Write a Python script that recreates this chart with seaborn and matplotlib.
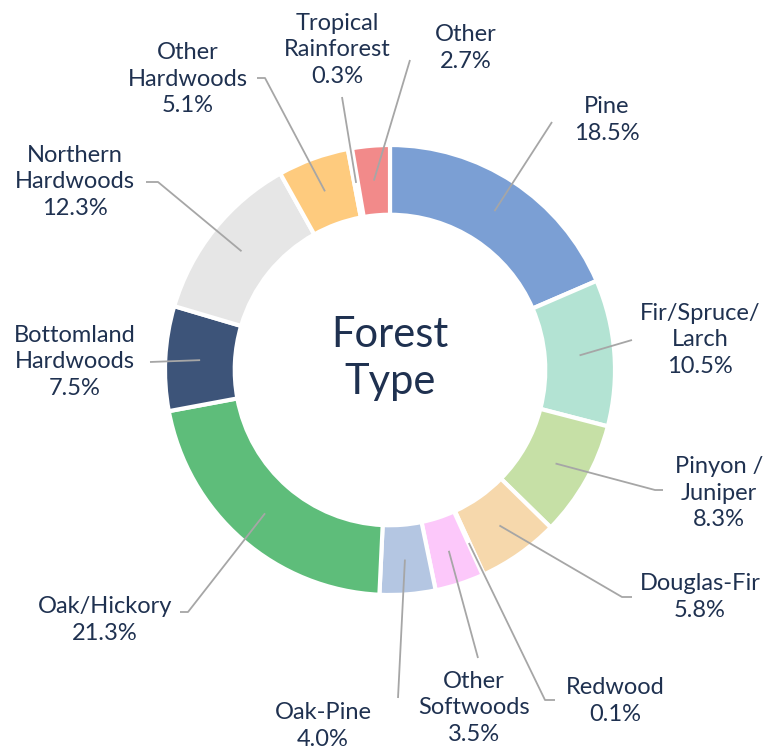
"""
Donut chart of forest type shares, with leader-line labels.
"""
import numpy as np
import seaborn as sns
import matplotlib.pyplot as plt

sns.set_theme(style="white")
plt.rcParams['font.family'] = ['Lato', 'DejaVu Sans']

types = ['Pine', 'Fir/Spruce/\nLarch', 'Pinyon /\nJuniper', 'Douglas-Fir',
         'Redwood', 'Other\nSoftwoods', 'Oak-Pine', 'Oak/Hickory',
         'Bottomland\nHardwoods', 'Northern\nHardwoods', 'Other\nHardwoods',
         'Tropical\nRainforest', 'Other']
shares = [18.5, 10.5, 8.3, 5.8, 0.1, 3.5, 4.0, 21.3, 7.5, 12.3, 5.1, 0.3, 2.7]
colors = ['#7B9FD4', '#B3E3D3', '#C6E0A6', '#F6D8AC', '#FFFFFF', '#FCC8FA',
          '#B4C6E2', '#5EBD7A', '#3D5479', '#E6E6E6', '#FECB7E', '#FFFFFF',
          '#F28A8A']

# label layout in pixels: text centre, line end, optional horizontal tail
label_pos = [(607, 120), (700, 340), (719, 493), (700, 597), (615, 701),
             (474, 708), (323, 726), (105, 620), (75, 362), (75, 182),
             (188, 79), (337, 50), (466, 48)]
line_end = [(552, 122), (632, 340), (655, 490), (622, 597), (545, 700),
            (478, 658), (398, 698), (188, 612), (150, 362), (158, 182),
            (265, 78), (342, 97), (410, 60)]
tail_end = [None, None, (663, 490), (632, 597), (555, 700), None, None,
            (180, 612), None, (146, 182), (257, 78), None, None]

TEXT = '#1F3150'
CX, CY, R = 390, 370, 225


def to_data(p):
    return (p[0] - CX) / R, (CY - p[1]) / R


fig = plt.figure(figsize=(7.73, 7.52), dpi=100)
ax = fig.add_axes([0, 0, 1, 1])
ax.pie(shares, colors=colors, startangle=90, counterclock=False, radius=1,
       wedgeprops=dict(width=0.31, edgecolor='white', linewidth=3))
ax.set_xlim(-CX / R, (773 - CX) / R)
ax.set_ylim((CY - 752) / R, CY / R)
ax.set_aspect('equal')
ax.axis('off')

total = sum(shares)
cum = np.cumsum([0] + shares[:-1])
for i, (name, val) in enumerate(zip(types, shares)):
    ang = np.deg2rad(90 - (cum[i] + val / 2) / total * 360)
    start = (0.845 * np.cos(ang), 0.845 * np.sin(ang))
    pts = [start, to_data(line_end[i])]
    if tail_end[i] is not None:
        pts.append(to_data(tail_end[i]))
    xs, ys = zip(*pts)
    ax.plot(xs, ys, color='#A6A6A6', lw=1.3, solid_capstyle='butt')
    tx, ty = to_data(label_pos[i])
    ax.text(tx, ty, f'{name}\n{val:.1f}%', ha='center', va='center',
            fontsize=17, color=TEXT, linespacing=1.3)

ax.text(0, 0.05, 'Forest\nType', ha='center', va='center', fontsize=30,
        color=TEXT, linespacing=1.3)

fig.savefig('out.png', dpi=100)
